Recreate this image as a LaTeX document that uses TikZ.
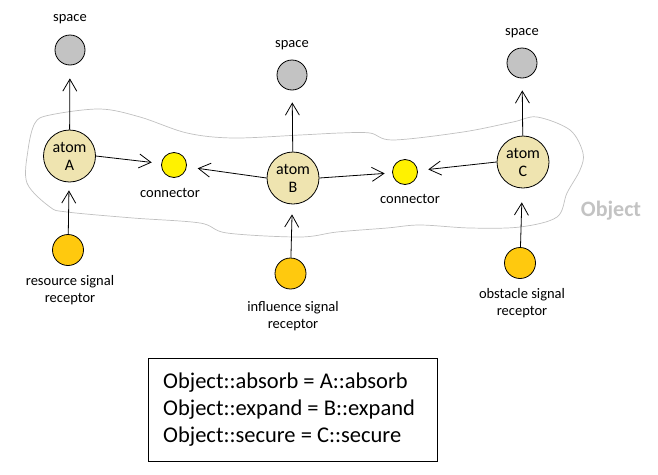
\documentclass[tikz,border=0pt]{standalone}
\usepackage{fontspec}
\setmainfont{Carlito}
\usetikzlibrary{arrows.meta}
\definecolor{atomtan}{RGB}{239,228,176}
\definecolor{connyel}{RGB}{255,242,0}
\definecolor{recgold}{RGB}{255,201,14}
\definecolor{spgray}{RGB}{195,195,195}
\definecolor{blobgray}{RGB}{192,192,192}
\begin{document}
\begin{tikzpicture}[x=1pt,y=-1pt,
  atomnode/.style={circle,draw,line width=0.8pt,fill=atomtan,minimum size=52pt,inner sep=0pt,align=center,font=\fontsize{16}{18}\selectfont},
  spacenode/.style={circle,draw,line width=0.8pt,fill=spgray,minimum size=30pt,inner sep=0pt},
  recnode/.style={circle,draw,line width=0.8pt,fill=recgold,minimum size=31pt,inner sep=0pt},
  connnode/.style={circle,draw,line width=0.8pt,fill=connyel,minimum size=25pt,inner sep=0pt},
  lbl/.style={inner sep=0pt,align=center,font=\fontsize{14.5}{17}\selectfont},
  arr/.style={line width=0.8pt,-{Straight Barb[length=12pt,width=14pt,line width=0.8pt]},shorten >=11pt}
]
\useasboundingbox (0,0) rectangle (658,474);

% blob outline
\draw[blobgray,line width=0.7pt] plot[smooth cycle,tension=0.55] coordinates {
 (35,123) (50,115) (100,109) (140,117) (187,133) (233,138) (300,135) (340,133)
 (370,133) (393,140) (463,132) (513,122) (537,117) (570,130) (583,153) (580,170)
 (567,193) (557,217) (520,227) (470,228) (420,225) (387,228) (337,232) (300,237)
 (227,233) (200,223) (133,218) (67,212) (50,207) (27,183) (28,150)};
\node[inner sep=0pt,text=spgray,font=\fontsize{22}{26}\bfseries\selectfont] (objlbl) at (611,211) {Object};

% nodes
\node[atomnode] (A) at (69.5,156) {atom\\A};
\node[atomnode] (B) at (293,178) {atom\\B};
\node[atomnode] (C) at (523,162) {atom\\C};

\node[spacenode] (sA) at (70,50) {};
\node[spacenode] (sB) at (292,75) {};
\node[spacenode] (sC) at (522,63) {};
\node[lbl] (lsA) at (70,19) {space};
\node[lbl] (lsB) at (292,45) {space};
\node[lbl] (lsC) at (522,33) {space};

\node[recnode] (rA) at (68,250) {};
\node[recnode] (rB) at (290.5,273.5) {};
\node[recnode] (rC) at (520,263) {};
\node[lbl] (lrA) at (70,290.5) {resource signal\\receptor};
\node[lbl] (lrB) at (293,316) {influence signal\\receptor};
\node[lbl] (lrC) at (522,303.5) {obstacle signal\\receptor};

\node[connnode] (c1) at (174,165) {};
\node[connnode] (c2) at (405,172) {};
\node[lbl] (lc1) at (170,193) {connector};
\node[lbl] (lc2) at (410,199) {connector};

% arrows
\draw[arr,shorten >=13pt] (A) -- (sA);
\draw[arr,shorten >=8pt] (rA) -- (A);
\draw[arr,shorten >=9.5pt] (A.east) -- (c1);
\draw[arr] (B.west) -- (c1);
\draw[arr,shorten >=12pt] (B) -- (sB);
\draw[arr,shorten >=10pt] (rB) -- (B);
\draw[arr,shorten >=7.5pt] (B.east) -- (c2);
\draw[arr,shorten >=10.5pt] (C.west) -- (c2);
\draw[arr,shorten >=12pt] (C) -- (sC);
\draw[arr,shorten >=14pt] (rC) -- (C);

% formula box
\node[draw,line width=0.8pt,minimum width=289pt,minimum height=103pt,inner sep=0pt] (box) at (292.5,409.5) {};
\node[inner sep=0pt,anchor=west,align=left,font=\fontsize{22.5}{27}\selectfont] (boxtext) at (163,410)
 {Object::absorb = A::absorb\\Object::expand = B::expand\\Object::secure = C::secure};
\end{tikzpicture}
\end{document}
